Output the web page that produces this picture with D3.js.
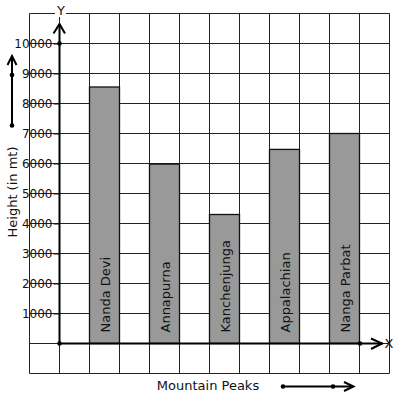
<!DOCTYPE html>
<html>
<head>
<meta charset="utf-8">
<script src="https://cdn.jsdelivr.net/npm/d3@7"></script>
<style>
html,body{margin:0;padding:0;background:#fff;}
svg{display:block;font-family:"DejaVu Sans",sans-serif;}
</style>
</head>
<body>
<svg id="chart" width="397" height="399"></svg>
<script>
const categories = ["Nanda Devi", "Annapurna", "Kanchenjunga", "Appalachian", "Nanga Parbat"];
const heights = [8550, 5980, 4300, 6470, 7000];
const yTicks = [1000, 2000, 3000, 4000, 5000, 6000, 7000, 8000, 9000, 10000];
const xTitle = "Mountain Peaks";
const yTitle = "Height (in mt)";

const svg = d3.select("#chart");
const ink = "#111";

// scales
const y = d3.scaleLinear().domain([0, 10000]).range([343.5, 43.5]);
const x = d3.scaleBand().domain(categories).range([74.5, 374.5]).paddingInner(0.5).paddingOuter(0.25);
const gx = d3.scaleLinear().domain([0, 12]).range([29.5, 389.5]);

// grid
const gridVals = d3.range(-1000, 11001, 1000);
const grid = svg.append("g").attr("stroke", "#222").attr("stroke-width", 1);
grid.selectAll("line.h").data(gridVals).join("line")
  .attr("x1", gx(0)).attr("x2", gx(12))
  .attr("y1", d => y(d)).attr("y2", d => y(d));
grid.selectAll("line.v").data(d3.range(0, 13)).join("line")
  .attr("x1", d => gx(d)).attr("x2", d => gx(d))
  .attr("y1", y(11000)).attr("y2", y(-1000));

// bars
svg.append("g").selectAll("rect").data(categories).join("rect")
  .attr("x", d => x(d)).attr("width", x.bandwidth())
  .attr("y", (d, i) => y(heights[i])).attr("height", (d, i) => y(0) - y(heights[i]))
  .attr("fill", "#999").attr("stroke", ink).attr("stroke-width", 1.3);

// bar labels
svg.append("g").selectAll("text").data(categories).join("text")
  .attr("transform", d => `translate(${x(d) + x.bandwidth() / 2 + 5},${y(0) - 11}) rotate(-90)`)
  .attr("font-size", 13).attr("fill", ink)
  .text(d => d);

// y axis ticks
const yAxis = d3.axisLeft(y).tickValues(yTicks).tickSize(6).tickPadding(1).tickFormat(d3.format("d"));
const ya = svg.append("g").attr("transform", "translate(59.5,0)").call(yAxis);
ya.select(".domain").remove();
ya.selectAll(".tick line").attr("stroke", ink);
ya.selectAll(".tick text").attr("font-size", 12).attr("fill", ink).attr("font-family", "DejaVu Sans, sans-serif");

// axes lines
const axes = svg.append("g").attr("stroke", "#000").attr("stroke-width", 2).attr("fill", "none");
axes.append("line").attr("x1", 59.5).attr("x2", 59.5).attr("y1", y(0)).attr("y2", 24);
axes.append("path").attr("d", "M53.5,33.5L59.5,24L65,33.5");
axes.append("line").attr("x1", 59.5).attr("x2", 383).attr("y1", y(0)).attr("y2", y(0));
axes.append("path").attr("d", `M371,${y(0) - 5}L382,${y(0)}L371,${y(0) + 5.5}`);

// left decorative arrow
axes.append("line").attr("x1", 12).attr("x2", 12).attr("y1", 125.5).attr("y2", 56);
axes.append("path").attr("d", "M7.5,65L12,56L16.5,65");
// bottom decorative arrow
axes.append("line").attr("x1", 283).attr("x2", 353).attr("y1", 386.5).attr("y2", 386.5);
axes.append("path").attr("d", "M344,382L353.5,386.5L344,391");

// dots
const dots = [[59.5, y(0)], [59.5, y(10000)], [360, y(0)], [12, 75], [12, 125.5], [283, 386.5], [333, 386.5]];
svg.append("g").selectAll("circle").data(dots).join("circle")
  .attr("cx", d => d[0]).attr("cy", d => d[1]).attr("r", 2.3).attr("fill", "#000");

// axis letters
svg.append("rect").attr("x", 55).attr("y", 9).attr("width", 11).attr("height", 8).attr("fill", "#fff");
svg.append("text").attr("x", 61).attr("y", 14.5).attr("text-anchor", "middle").attr("font-size", 13).attr("fill", ink).text("Y");
svg.append("text").attr("x", 389).attr("y", 347.5).attr("text-anchor", "middle").attr("font-size", 13).attr("fill", ink).text("X");

// titles
svg.append("text").attr("x", 208).attr("y", 390).attr("text-anchor", "middle").attr("font-size", 13).attr("fill", ink).text(xTitle);
svg.append("text").attr("transform", "translate(17,192) rotate(-90)").attr("text-anchor", "middle").attr("font-size", 13).attr("fill", ink).text(yTitle);
</script>
</body>
</html>
